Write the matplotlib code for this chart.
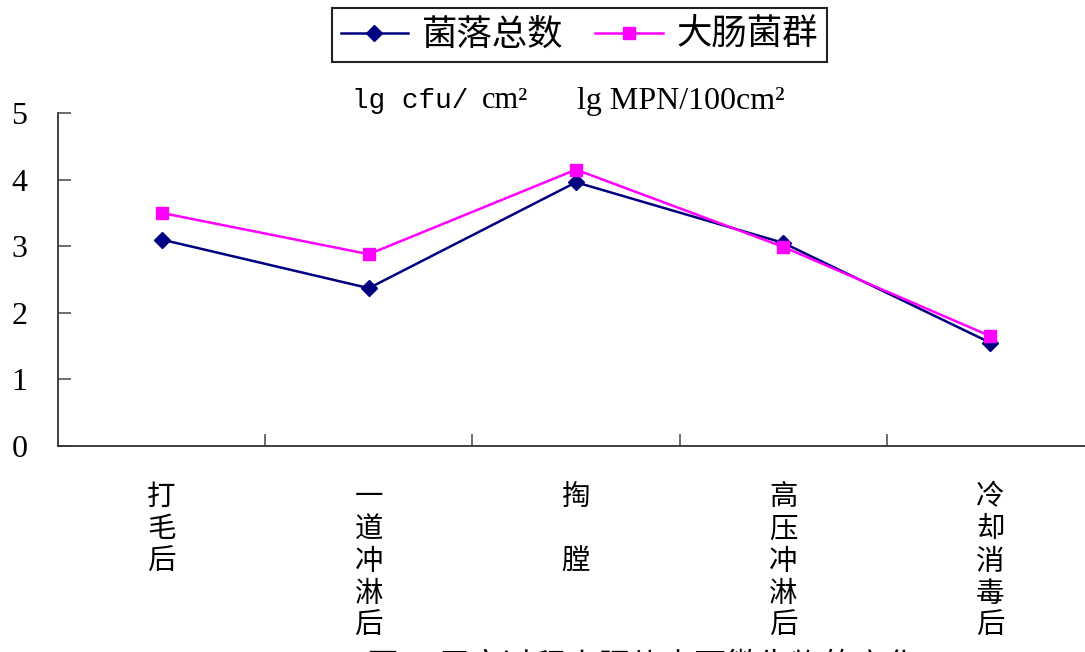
import matplotlib
matplotlib.use("Agg")
import matplotlib.pyplot as plt
from matplotlib.lines import Line2D

plt.rcParams['font.family'] = ['Noto Sans CJK SC', 'DejaVu Sans']

categories = ["打毛后", "一道冲淋后", "掏\u3000膛", "高压冲淋后", "冷却消毒后"]
total_colonies = [3.10, 2.37, 3.96, 3.05, 1.55]
coliforms = [3.50, 2.88, 4.15, 2.99, 1.65]
yticks = [0, 1, 2, 3, 4, 5]
series_names = ["菌落总数", "大肠菌群"]
caption = "图 1  屠宰过程中胴体表面微生物的变化"

W, H = 1085, 652
fig = plt.figure(figsize=(W / 100, H / 100), dpi=100)
ax = fig.add_axes([58 / W, 1 - 446 / H, 1036 / W, 333 / H])

x = list(range(len(categories)))
ax.plot(x, total_colonies, color="#000080", lw=1.8, marker="D", ms=8.5,
        mfc="#000080", mec="#000080", label=series_names[0])
ax.plot(x, coliforms, color="#FF00FF", lw=1.8, marker="s", ms=8.5,
        mfc="#FF00FF", mec="#FF00FF", label=series_names[1])

ax.set_xlim(-0.5, len(categories) - 0.5)
ax.set_ylim(0, 5)

for s in ["top", "right"]:
    ax.spines[s].set_visible(False)
for s in ["left", "bottom"]:
    ax.spines[s].set_color("#333333")
    ax.spines[s].set_linewidth(1.3)

ax.set_yticks(yticks)
ax.set_yticklabels([str(v) for v in yticks], family="Liberation Serif", fontsize=23)
ax.tick_params(axis="y", direction="in", length=9, width=1.2, color="#555555", pad=22)

ax.set_xticks(x)
ax.set_xticklabels(["\n".join(c) for c in categories], fontsize=20.5, linespacing=1.1,
                   va="top")
ax.tick_params(axis="x", which="major", length=0, pad=26)
ax.set_xticks([i + 0.5 for i in x[:-1]], minor=True)
ax.tick_params(axis="x", which="minor", direction="in", length=9, width=1.2, color="#555555")

handles = [
    Line2D([], [], color="#000080", lw=1.8, marker="D", ms=8.5, mfc="#000080", mec="#000080"),
    Line2D([], [], color="#FF00FF", lw=1.8, marker="s", ms=8.5, mfc="#FF00FF", mec="#FF00FF"),
]
leg = fig.legend(handles, series_names, loc="center", bbox_to_anchor=(579.5 / W, 1 - 35 / H),
                 ncol=2, fontsize=25.5, frameon=True, fancybox=False, framealpha=1,
                 edgecolor="#222222", handlelength=1.9, handletextpad=0.4,
                 columnspacing=0.9, borderpad=0.25, borderaxespad=0)
leg.get_frame().set_linewidth(1.5)

fig.text(352 / W, 1 - 101 / H, "lg cfu/", family="Liberation Mono", fontsize=20,
         ha="left", va="center")
fig.text(482 / W, 1 - 101 / H, "cm²", family="Liberation Serif", fontsize=22,
         ha="left", va="center")
fig.text(577 / W, 1 - 101 / H, "lg MPN/100cm²", family="Liberation Serif", fontsize=23,
         ha="left", va="center")

fig.text(643 / W, 1 - 651 / H, caption, fontsize=23, ha="center", va="top")

fig.savefig("out.png", dpi=100)
